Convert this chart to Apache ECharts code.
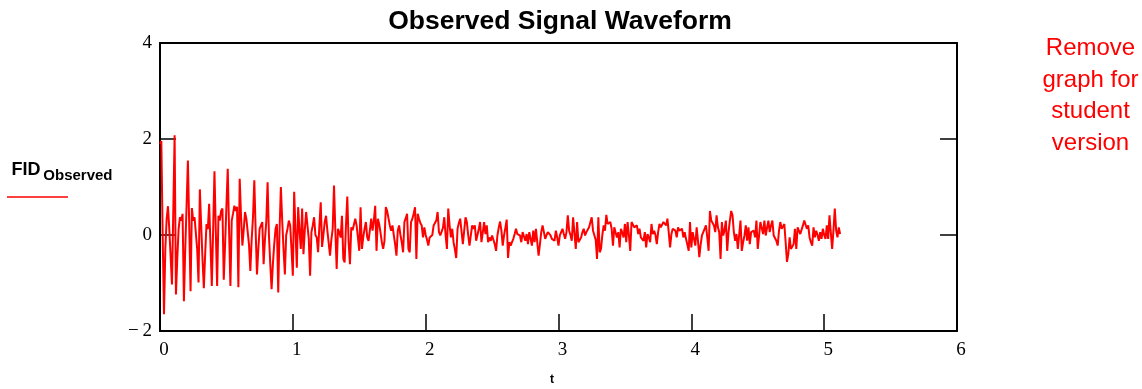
<!DOCTYPE html>
<html>
<head>
<meta charset="utf-8">
<script src="https://cdn.jsdelivr.net/npm/echarts@6/dist/echarts.min.js"></script>
<style>
html,body{margin:0;padding:0;background:#fff;}
#chart{width:1142px;height:389px;}
</style>
</head>
<body>
<div id="chart"></div>
<script>
const chartTitle = 'Observed Signal Waveform';
const xName = 't';
const seriesName = 'FID';
const seriesSub = 'Observed';
const note = ['Remove', 'graph for', 'student', 'version'];
const xTicks = [0, 1, 2, 3, 4, 5, 6];
const yTicks = [-2, 0, 2, 4];
const sampleStep = 0.01;
const fidObserved = [
1.9,1.96,0.0,-1.65,-0.3,0.33,0.6,0.12,-0.45,-1.03,
0.5,2.08,-1.24,-0.5,0.12,0.37,0.3,0.44,-1.38,-0.3,
0.6,1.55,0.2,-1.17,0.56,0.3,0.37,0.4,-0.3,-0.99,
0.95,0.2,-0.5,-1.11,-0.4,0.23,0.12,0.65,-0.2,-1.06,
0.1,1.33,0.1,-1.06,0.4,0.3,0.5,0.55,-0.93,-0.2,
0.6,1.38,0.1,-1.06,0.3,0.45,0.61,0.5,0.59,-1.09,
1.17,0.4,-0.22,0.1,0.48,0.34,0.37,-0.2,-0.75,-0.1,
0.37,1.14,0.1,-0.82,-0.3,0.13,0.2,0.27,-0.61,-0.1,
0.27,1.1,0,-0.6,-1.13,-0.6,-0.19,0.13,0.23,-1.2,
0.1,1.0,0.3,-0.3,-0.82,0,0.13,0.3,0.2,-0.3,
-0.85,0.9,0.1,-0.68,0.58,0.1,-0.29,0.55,-0.4,0.1,
0.48,0.2,-0.08,-0.85,0.06,0.2,0.37,0,-0.05,-0.36,
0.2,0.68,-0.25,0.0,0.27,0.4,0.09,0.13,-0.43,-0.1,
0.13,1.03,0.1,-0.71,0.13,0.05,-0.05,0.4,-0.5,-0.57,
0.2,0.8,-0.15,-0.61,0.16,0.1,0.13,0.34,0.2,-0.05,
-0.33,0.58,-0.29,-0.05,0.13,0.27,-0.05,-0.12,0.1,0.34,
0.09,0.3,0.61,-0.33,0.34,0.23,0.05,-0.15,-0.29,-0.12,
0.58,0.5,0.48,0.2,0.09,0.2,0.0,-0.19,-0.43,0.09,
0.2,0.0,-0.15,-0.36,0.27,0.35,0.44,-0.29,-0.36,0.27,
0.34,0.45,0.58,-0.5,0.44,0.34,0.25,0.2,-0.05,0.16,
0,-0.1,-0.22,-0.05,-0.02,0,0.2,0.25,0.3,0.48,
0.06,-0.01,-0.05,0.15,0.37,0.0,-0.29,0.55,0.2,-0.05,
0.13,-0.15,-0.3,-0.48,0.13,0.25,0.34,0.3,-0.19,-0.19,
0.37,0.27,0.0,-0.22,-0.01,0.2,0.13,0.2,-0.12,0.0,
0.13,0.27,-0.15,0.05,0.27,0.02,0.2,-0.15,-0.05,-0.12,
-0.01,-0.1,-0.19,-0.33,-0.01,0.15,0.28,0.1,-0.22,-0.01,
0.15,0.32,-0.48,-0.15,-0.22,-0.15,-0.08,0.02,0.13,0.02,
0.0,-0.01,-0.15,0.06,-0.03,-0.12,0.02,-0.19,0.06,-0.08,
-0.22,0.09,-0.15,0.13,-0.15,-0.43,-0.2,0.06,0.2,0.16,
-0.08,0.0,0.06,0.02,-0.01,-0.08,-0.1,-0.12,0.09,-0.05,
-0.22,-0.01,-0.05,0.13,0.02,-0.08,0.06,0.41,0.09,0.0,
-0.12,0.37,0.34,-0.29,0.27,-0.15,-0.19,-0.05,0.06,0.13,
-0.01,0.06,0.1,0.16,0.13,0.37,0.09,0.13,-0.1,-0.5,
0.37,-0.36,-0.29,0.0,0.2,0.09,0.42,0.23,0.25,0.27,
0.13,-0.22,0.16,0.05,-0.05,0.06,-0.26,0.13,0.05,-0.05,
0.23,-0.15,0.27,0.0,-0.33,0.27,0.29,0.16,0.18,0.2,
0.02,0.13,-0.05,-0.08,-0.12,0.06,-0.26,0.02,-0.05,-0.15,
0.23,0.02,0.09,0.0,-0.19,0.06,0.23,0.16,0.2,0.27,
0.3,0.2,0.34,0.05,-0.26,0.02,0.13,0.1,0.09,-0.05,
0.16,0.09,0.1,0.13,-0.05,0.06,-0.08,-0.2,-0.33,0.27,
-0.26,0.06,-0.08,-0.22,0.16,-0.12,-0.46,-0.2,-0.01,0.02,
0.13,0.2,-0.05,-0.33,0.5,0.3,0.34,0.2,0.06,0.41,
0.16,0.06,-0.5,0.27,-0.01,0.1,0.3,-0.33,0.06,0.3,
0.5,0.41,0.06,-0.12,0.02,-0.29,0.0,0.3,-0.33,-0.15,
-0.01,0.2,-0.12,0.16,-0.19,0.06,0.08,0.09,-0.05,0.3,
-0.29,-0.29,0.27,0.23,0.02,0.3,-0.01,0.15,0.3,0.06,
0.2,0.3,-0.01,-0.05,-0.12,-0.22,0.09,0.27,0.13,0.18,
0.23,-0.15,-0.56,-0.4,-0.05,-0.29,-0.25,-0.19,0.13,-0.29,
0.16,0.16,0.02,0.0,0.2,0.3,0.34,0.13,0.2,-0.05,
-0.15,-0.22,0.16,-0.05,0.09,0.0,-0.12,0.06,-0.08,0.13,
0.0,-0.08,0.2,-0.08,0.41,0.05,-0.29,0.1,0.55,0.1,
-0.05,0.16,0.02
];

const seriesData = fidObserved.map((v, i) => [+(i * sampleStep).toFixed(2), v]);
const fmtY = v => (v < 0 ? '\u2212\u2009' + Math.abs(v) : String(v));

const chart = echarts.init(document.getElementById('chart'), null, {renderer: 'canvas'});
const axisLineStyle = {color: '#000', width: 2};
const tickStyle = {color: '#000', width: 1.5};
const serif = '"Liberation Serif", "Times New Roman", serif';
const sans = '"Liberation Sans", Arial, sans-serif';

chart.setOption({
  animation: false,
  backgroundColor: '#fff',
  grid: {left: 160, right: 185, top: 43, bottom: 58},
  xAxis: [{
    type: 'value', min: xTicks[0], max: xTicks[xTicks.length - 1], interval: 1,
    position: 'bottom',
    axisLine: {show: true, onZero: false, lineStyle: axisLineStyle},
    axisTick: {show: true, inside: true, length: 17, lineStyle: tickStyle},
    axisLabel: {fontFamily: serif, fontSize: 19, color: '#000', margin: 10,
      padding: [0, 0, 0, 8], formatter: v => String(v)},
    splitLine: {show: false}
  }, {
    type: 'value', min: xTicks[0], max: xTicks[xTicks.length - 1], interval: 1,
    position: 'top',
    axisLine: {show: true, onZero: false, lineStyle: axisLineStyle},
    axisTick: {show: false},
    axisLabel: {show: false},
    splitLine: {show: false}
  }],
  yAxis: [{
    type: 'value', min: yTicks[0], max: yTicks[yTicks.length - 1], interval: 2,
    position: 'left',
    axisLine: {show: true, onZero: false, lineStyle: axisLineStyle},
    axisTick: {show: true, inside: true, length: 16, lineStyle: tickStyle},
    axisLabel: {fontFamily: serif, fontSize: 19, color: '#000', margin: 8,
      padding: [3, 0, 0, 0], formatter: fmtY},
    splitLine: {show: false}
  }, {
    type: 'value', min: yTicks[0], max: yTicks[yTicks.length - 1], interval: 2,
    position: 'right',
    axisLine: {show: true, onZero: false, lineStyle: axisLineStyle},
    axisTick: {show: true, inside: true, length: 17, lineStyle: tickStyle},
    axisLabel: {show: false},
    splitLine: {show: false}
  }],
  graphic: [
    {type: 'text', x: 560, y: 21.5,
      style: {text: chartTitle, font: 'bold 26.5px ' + sans, fill: '#000',
        align: 'center', verticalAlign: 'middle'}},
    {type: 'text', x: 552, y: 380,
      style: {text: xName, font: 'bold 12px ' + sans, fill: '#000',
        align: 'center', verticalAlign: 'middle'}},
    {type: 'text', x: 11.5, y: 170.4,
      style: {text: seriesName, font: 'bold 18px ' + sans, fill: '#000',
        align: 'left', verticalAlign: 'middle'}},
    {type: 'text', x: 43.3, y: 175.4,
      style: {text: seriesSub, font: 'bold 15px ' + sans, fill: '#000',
        align: 'left', verticalAlign: 'middle'}},
    {type: 'line', shape: {x1: 7, y1: 197, x2: 68, y2: 197},
      style: {stroke: '#ff0000', lineWidth: 1.5}},
    {type: 'text', x: 1090.5, y: 32.5,
      style: {text: note.join('\n'), font: '24px ' + sans, fill: '#ff0000',
        align: 'center', verticalAlign: 'top', lineHeight: 31.7}}
  ],
  series: [{
    name: seriesName + seriesSub,
    type: 'line',
    xAxisIndex: 0, yAxisIndex: 0,
    data: seriesData,
    showSymbol: false,
    symbol: 'none',
    lineStyle: {color: '#ff0000', width: 2},
    itemStyle: {color: '#ff0000'}
  }]
});
</script>
</body>
</html>
